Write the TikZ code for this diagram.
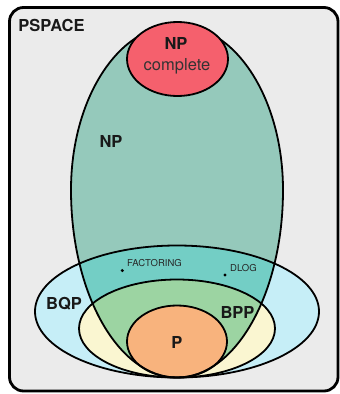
\documentclass[tikz,border=0pt]{standalone}
\usepackage{fontspec}
\setmainfont{TeX Gyre Heros}
\definecolor{bgc}{HTML}{EBEBEB}
\definecolor{npc}{HTML}{95C9BB}
\definecolor{redc}{HTML}{F5606D}
\definecolor{bqpc}{HTML}{C6EEF7}
\definecolor{bppc}{HTML}{FAF6D1}
\definecolor{pc}{HTML}{F8B37D}
\definecolor{tealc}{HTML}{73CEC5}
\definecolor{greenc}{HTML}{9CD4A2}
\begin{document}
\begin{tikzpicture}[x=1pt,y=-1pt,
  outline/.style={draw=black, line width=1.8pt},
  big/.style={font=\fontsize{16.5}{18}\selectfont\bfseries, text=black!90, inner sep=0pt},
  reg/.style={font=\fontsize{16.5}{18}\selectfont, text=black!80, inner sep=0pt},
  tiny/.style={font=\fontsize{9.5}{10}\selectfont, text=black!85, inner sep=0pt},
  dotmark/.style={circle, fill=black, inner sep=0pt, minimum size=3.4pt}]
\useasboundingbox (0,0) rectangle (340,394);
\draw[line width=2.8pt, rounded corners=14pt, fill=bgc] (9.5,7.5) rectangle (338,391);
\def\NPpath{(71,190) arc[start angle=180,end angle=360,x radius=106,y radius=165] arc[start angle=0,end angle=180,x radius=106,y radius=187.5] -- cycle}
\def\BQPpath{(177,311.5) ellipse[x radius=142,y radius=66]}
\def\BPPpath{(177,328.5) ellipse[x radius=98,y radius=49]}
\def\Ppath{(177,341.5) ellipse[x radius=50,y radius=36]}
\fill[bqpc] \BQPpath;
\fill[bppc] \BPPpath;
\fill[npc] \NPpath;
\begin{scope}
  \clip \NPpath;
  \fill[tealc] \BQPpath;
  \fill[greenc] \BPPpath;
\end{scope}
\fill[pc] \Ppath;
\draw[outline] \BQPpath;
\draw[outline] \BPPpath;
\draw[outline] \NPpath;
\draw[outline] \Ppath;
\filldraw[outline, fill=redc] (177.5,59) ellipse[x radius=50.5,y radius=37];
\node[big] (pspace) at (51.5,25) {PSPACE};
\node[big] (npctop) at (176,43) {NP};
\node[reg, anchor=base] (npcbot) at (177,70) {complete};
\node[big] (np) at (111,141) {NP};
\node[big] (bqp) at (64,304) {BQP};
\node[big] (bpp) at (237.5,312) {BPP};
\node[big] (p) at (177,342.5) {P};
\node[dotmark] (fdot) at (122.3,270.5) {};
\node[tiny, anchor=west] (fact) at (127,263.3) {FACTORING};
\node[dotmark] (ddot) at (225,275) {};
\node[tiny, anchor=west] (dlog) at (230,268) {DLOG};
\end{tikzpicture}
\end{document}
